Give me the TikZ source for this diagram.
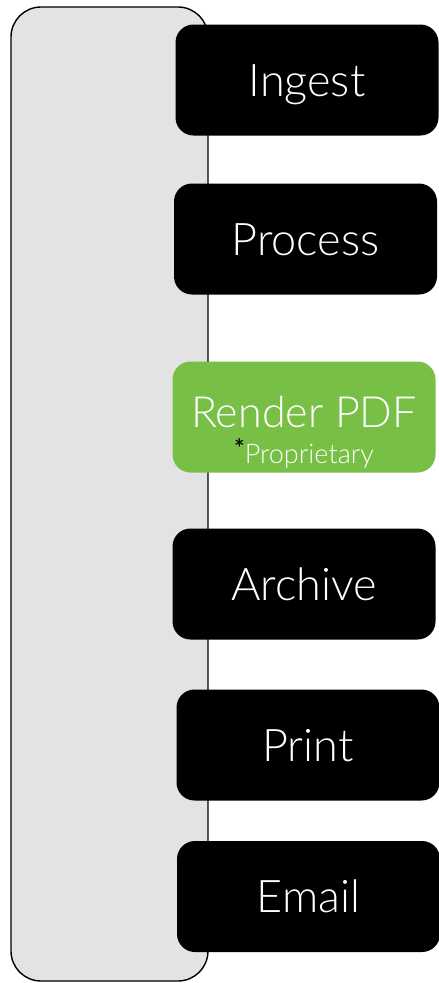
\documentclass[tikz,border=0pt]{standalone}
\usepackage{fontspec}
\setmainfont{Lato}[UprightFont=* Light]
\usetikzlibrary{positioning}

\definecolor{panelgray}{HTML}{E3E3E3}
\definecolor{rendergreen}{HTML}{78BF45}

\tikzset{
  panel/.style={draw=black, line width=1.4pt, fill=panelgray, rounded corners=30pt},
  stage/.style={fill=black, text=white, rounded corners=18pt, minimum width=263pt,
    minimum height=111pt, inner sep=0pt, text height=32pt, text depth=0pt,
    font=\fontsize{45}{50}\selectfont},
  proprietary/.style={stage, fill=rendergreen, text height=20pt,
    font=\fontsize{43}{45}\selectfont},
  note/.style={anchor=base, yshift=9pt, inner sep=0pt, text=white,
    font=\fontsize{27}{30}\selectfont},
}

\begin{document}
\begin{tikzpicture}[x=1pt, y=-1pt]
      \useasboundingbox (0,0) rectangle (439,983);
      \draw[panel] (11,7) rectangle (208,981);
      \node[stage] (ingest) at (307,80) {Ingest};
      \node[stage] (process) at (305.5,239) {Process};
      \node[proprietary, label={[note]south:{\textcolor{black}{\fontsize{25}{25}\selectfont\bfseries\raisebox{6pt}{*}}Proprietary}}]
        (render) at (304,417) {Render PDF};
      \node[stage] (archive) at (304,584) {Archive};
      \node[stage] (print) at (308,745) {Print};
      \node[stage] (email) at (308.5,896.5) {Email};
    \end{tikzpicture}
\end{document}
